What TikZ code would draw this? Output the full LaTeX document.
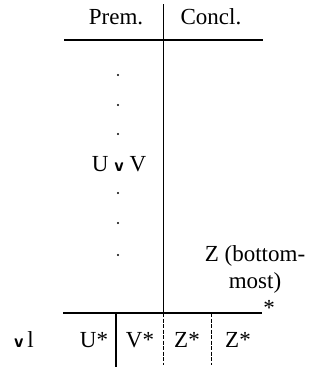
\documentclass[tikz,border=0pt]{standalone}
\usepackage{fontspec}
\setmainfont{Liberation Serif}
\newcommand{\orv}{{\sffamily\bfseries\fontsize{19}{19}\selectfont v}}
\begin{document}
\begin{tikzpicture}[x=1pt,y=1pt,
  lbl/.style={inner sep=0pt, font=\fontsize{23}{27}\selectfont},
  rule/.style={line width=1.3pt},
  sep/.style={line width=0.9pt, dash pattern=on 4pt off 1.5pt},
  pt/.style={circle, fill=black, inner sep=0pt, minimum size=2.4pt}]
\useasboundingbox (0,0) rectangle (325,-367);
% header
\node[lbl] (prem) at (116,-17) {Prem.};
\node[lbl] (concl) at (211,-17) {Concl.};
% lines
\coordinate (tl) at (64,-40);
\coordinate (tr) at (263,-40);
\draw[rule] (tl) -- (tr);
\coordinate (vtop) at (163,-4);
\coordinate (vmid) at (163,-313);
\coordinate (vbot) at (163,-365);
\draw[line width=1pt] (vtop) -- (vmid);
\draw[sep] (vmid) -- (vbot);
% premise column
\node[pt] (d1) at (118,-75) {};
\node[pt] (d2) at (118,-105) {};
\node[pt] (d3) at (118,-134) {};
\node[lbl] (uv) at (119,-164) {U \orv\ V};
\node[pt] (d4) at (118,-193) {};
\node[pt] (d5) at (118,-223) {};
\node[pt] (d6) at (118,-255) {};
% conclusion
\node[lbl, align=center] (z) at (255,-269) {Z (bottom-\\most)};
% bottom line
\coordinate (bl) at (63,-313);
\coordinate (br) at (262,-313);
\draw[rule] (bl) -- (br);
\node[lbl] (star) at (269,-308) {*};
% bottom row
\node[lbl] (rl) at (24,-340) {\orv\,l};
\node[lbl] (us) at (94,-340) {U*};
\coordinate (b1t) at (116,-313);
\coordinate (b1b) at (116,-367);
\draw[line width=1.8pt] (b1t) -- (b1b);
\node[lbl] (vs) at (140,-340) {V*};
\node[lbl] (zs1) at (187,-340) {Z*};
\coordinate (b3t) at (211,-313);
\coordinate (b3b) at (211,-365);
\draw[sep] (b3t) -- (b3b);
\node[lbl] (zs2) at (238,-340) {Z*};
\end{tikzpicture}
\end{document}
